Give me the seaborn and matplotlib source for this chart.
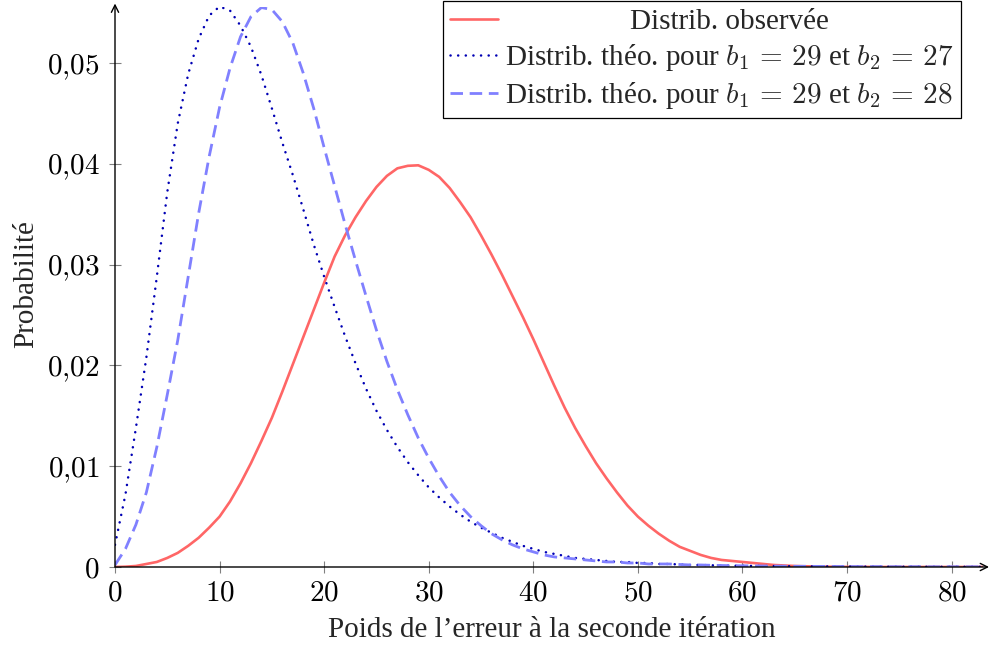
import matplotlib
matplotlib.use("Agg")
import matplotlib.pyplot as plt
import seaborn as sns
import pandas as pd

# ---------------- data ----------------
x_vals = list(range(84))

obs = [
    0.0, 0.00003, 0.0001, 0.0003, 0.0005, 0.0009, 0.0014, 0.0021, 0.0029, 0.0039,
    0.0050, 0.0065, 0.0083, 0.0103, 0.0125, 0.0148, 0.0174, 0.0201, 0.0228, 0.0255,
    0.0282, 0.0308, 0.0329, 0.0347, 0.0363, 0.0377, 0.0388, 0.03955, 0.0398, 0.03985,
    0.0394, 0.0387, 0.0376, 0.0362, 0.0347, 0.0329, 0.0310, 0.0290, 0.0269, 0.0248,
    0.0226, 0.0203, 0.0180, 0.0158, 0.0138, 0.0120, 0.0103, 0.0088, 0.0074, 0.0061,
    0.0050, 0.0041, 0.0033, 0.0026, 0.0020, 0.0016, 0.0012, 0.0009, 0.0007, 0.0006,
    0.0005, 0.0004, 0.0003, 0.0002, 0.00015, 0.0001, 0.00007, 0.00005, 0.00003, 0.00002,
    0.00001, 0.00001, 0.00001, 0.0, 0.0, 0.0, 0.0, 0.0, 0.0, 0.0,
    0.0, 0.0, 0.0, 0.0,
]

theo_27 = [
    0.0022, 0.0072, 0.0138, 0.0208, 0.0288, 0.0372, 0.0440, 0.0489, 0.0524, 0.0547,
    0.0556, 0.0552, 0.0537, 0.0516, 0.0488, 0.0455, 0.0421, 0.0389, 0.0355, 0.0320,
    0.0288, 0.0258, 0.0229, 0.0202, 0.0177, 0.0155, 0.0136, 0.0119, 0.0104, 0.0091,
    0.0079, 0.0069, 0.0060, 0.0052, 0.0045, 0.0039, 0.0034, 0.0029, 0.0025, 0.0021,
    0.0018, 0.0015, 0.0013, 0.0011, 0.0009, 0.0008, 0.0007, 0.0006, 0.0005, 0.0005,
    0.0004, 0.0004, 0.0003, 0.0003, 0.00025, 0.0002, 0.0002, 0.00017, 0.00015, 0.00013,
    0.00012, 0.00011, 0.0001, 0.00009, 0.00008, 0.00007, 0.00007, 0.00006, 0.00006, 0.00005,
    0.00005, 0.00004, 0.00004, 0.00004, 0.00003, 0.00003, 0.00003, 0.00003, 0.00002, 0.00002,
    0.00002, 0.00002, 0.00002, 0.00002,
]

theo_28 = [
    0.0002, 0.0018, 0.0042, 0.0074, 0.0119, 0.0171, 0.0225, 0.0288, 0.0351, 0.0407,
    0.0456, 0.0495, 0.0526, 0.0546, 0.0555, 0.0553, 0.0541, 0.0520, 0.0490, 0.0455,
    0.0416, 0.0378, 0.0340, 0.0304, 0.0269, 0.0235, 0.0204, 0.0176, 0.0151, 0.0128,
    0.0108, 0.0090, 0.0074, 0.0061, 0.0050, 0.0041, 0.0033, 0.0027, 0.0022, 0.0018,
    0.0015, 0.0012, 0.0010, 0.0009, 0.0008, 0.0007, 0.0006, 0.0005, 0.0005, 0.0004,
    0.0004, 0.0003, 0.0003, 0.0003, 0.00025, 0.0002, 0.0002, 0.00017, 0.00015, 0.00013,
    0.00012, 0.00011, 0.0001, 0.00009, 0.00008, 0.00007, 0.00007, 0.00006, 0.00006, 0.00005,
    0.00005, 0.00004, 0.00004, 0.00004, 0.00003, 0.00003, 0.00003, 0.00003, 0.00002, 0.00002,
    0.00002, 0.00002, 0.00002, 0.00002,
]

series_labels = [
    "Distrib. observée",
    r"Distrib. théo. pour $b_1\,=\,29$ et $b_2\,=\,27$",
    r"Distrib. théo. pour $b_1\,=\,29$ et $b_2\,=\,28$",
]
x_ticks = [0, 10, 20, 30, 40, 50, 60, 70, 80]
x_tick_labels = ["$0$", "$10$", "$20$", "$30$", "$40$", "$50$", "$60$", "$70$", "$80$"]
y_ticks = [0.0, 0.01, 0.02, 0.03, 0.04, 0.05]
y_tick_labels = ["$0$", "$0{,}01$", "$0{,}02$", "$0{,}03$", "$0{,}04$", "$0{,}05$"]
x_label = "Poids de l’erreur à la seconde itération"
y_label = "Probabilité"

# ---------------- style ----------------
sns.set_theme(style="ticks")
plt.rcParams["font.family"] = ["Liberation Serif", "DejaVu Serif"]
plt.rcParams["mathtext.fontset"] = "cm"
plt.rcParams["axes.unicode_minus"] = False

FS = 21
W, H = 990, 646
fig = plt.figure(figsize=(W / 100, H / 100), dpi=100)
fig.patch.set_facecolor("white")

x_left, x_right = 115, 983
y_bottom, y_top = 567, 6.55
ax = fig.add_axes([x_left / W, 1 - y_bottom / H, (x_right - x_left) / W, (y_bottom - y_top) / H])
ax.set_facecolor("white")

df = pd.DataFrame({"x": x_vals, "obs": obs, "t27": theo_27, "t28": theo_28})

sns.lineplot(data=df, x="x", y="obs", ax=ax, color="#ff6666", linewidth=1.9)
sns.lineplot(data=df, x="x", y="t27", ax=ax, color="#0000b4", linewidth=1.8)
sns.lineplot(data=df, x="x", y="t28", ax=ax, color="#8080ff", linewidth=2.0)

lines = ax.get_lines()
l_obs, l_27, l_28 = lines[0], lines[1], lines[2]
l_obs.set_solid_joinstyle("round")
l_27.set_linestyle((0, (0.05, 3.0)))
l_27.set_dash_capstyle("round")
l_28.set_linestyle((0, (4.5, 2.4)))
l_28.set_dash_capstyle("butt")

ax.set_xlim(0, 83)
ax.set_ylim(0, 0.0556)
ax.set_xticks(x_ticks)
ax.set_xticklabels(x_tick_labels)
ax.set_yticks(y_ticks)
ax.set_yticklabels(y_tick_labels)
ax.minorticks_off()
ax.set_xlabel("")
ax.set_ylabel("")

for s in ["top", "right", "left", "bottom"]:
    ax.spines[s].set_visible(False)

ax.tick_params(axis="both", direction="inout", length=8, width=0.8,
               color="#808080", labelcolor="black", labelsize=FS)
ax.tick_params(axis="y", pad=7.0)
ax.tick_params(axis="x", pad=5.5)

# axis arrows (pgfplots style)
arrow_kw = dict(arrowstyle="->", lw=1.0, color="black", shrinkA=0, shrinkB=0,
                mutation_scale=13)
ax.annotate("", xy=(1 + 6 / (x_right - x_left), 0), xytext=(0, 0),
            xycoords="axes fraction", textcoords="axes fraction",
            arrowprops=arrow_kw, annotation_clip=False)
ax.annotate("", xy=(0, 1 + 3 / (y_bottom - y_top)), xytext=(0, 0),
            xycoords="axes fraction", textcoords="axes fraction",
            arrowprops=arrow_kw, annotation_clip=False)

# axis labels
fig.text(552 / W, 1 - 637 / H, x_label, ha="center", va="baseline", fontsize=FS)
fig.text(33.3 / W, 1 - 284 / H, y_label, rotation=90, rotation_mode="anchor",
         ha="center", va="baseline", fontsize=FS)

# legend
leg = ax.legend([l_obs, l_27, l_28], series_labels, loc="upper right",
                bbox_to_anchor=(961 / W, 1 - 1 / H), bbox_transform=fig.transFigure,
                borderaxespad=0, frameon=True, fancybox=False, edgecolor="black",
                framealpha=1, fontsize=FS, handlelength=1.65, handletextpad=0.24,
                labelspacing=0.24, borderpad=0.25)
leg.get_frame().set_linewidth(0.9)

# centre the first legend label like pgfplots
try:
    fig.canvas.draw()
    r = fig.canvas.get_renderer()
    texts = leg.get_texts()
    widths = [t.get_window_extent(r).width for t in texts]
    delta_px = (max(widths) - widths[0]) / 2
    col = leg._legend_handle_box.get_children()[0]
    item0 = col.get_children()[0]
    item0.sep += delta_px * 72 / fig.dpi
except Exception:
    pass

fig.savefig("out.png", dpi=100, facecolor="white")
